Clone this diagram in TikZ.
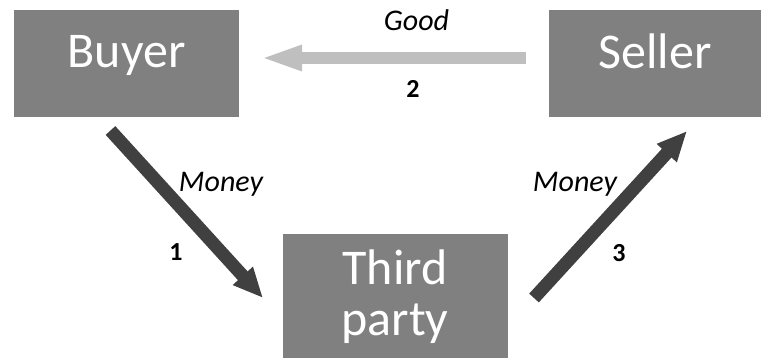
\documentclass[tikz,border=0pt]{standalone}
\usepackage{fontspec}
\setmainfont{Carlito}
\usetikzlibrary{arrows.meta}
\definecolor{boxgray}{HTML}{808080}
\definecolor{darkarrow}{HTML}{404040}
\definecolor{lightarrow}{HTML}{BFBFBF}
\tikzset{
  party/.style={fill=boxgray, draw=none, inner sep=0pt},
  partytext/.style={text=white, anchor=base, inner sep=0pt, font=\fontsize{50}{54}\selectfont},
  flowlabel/.style={anchor=base, inner sep=0pt, font=\fontsize{30}{34}\selectfont\itshape},
  steplabel/.style={anchor=base, inner sep=0pt, font=\fontsize{26}{30}\selectfont\bfseries},
  darkflow/.style={draw=darkarrow, line width=13pt, -{Triangle[length=30pt,width=25pt]}, color=darkarrow},
  lightflow/.style={draw=lightarrow, line width=12pt, -{Triangle[length=42pt,width=23pt]}, color=lightarrow}
}
\begin{document}
\begin{tikzpicture}[x=1pt,y=-1pt]
\useasboundingbox (0,0) rectangle (761,358);
% boxes
\node[party, minimum width=225pt, minimum height=107pt] (buyer) at (126.5,63.5) {};
\node[party, minimum width=212pt, minimum height=107pt] (seller) at (655,63.5) {};
\node[party, minimum width=225pt, minimum height=124pt] (third) at (395.5,296) {};
% box texts
\node[partytext] (buyertext) at (126.5,68) {Buyer};
\node[partytext] (sellertext) at (655,69) {Seller};
\node[partytext] (thirdtext1) at (395,285) {Third};
\node[partytext] (thirdtext2) at (395,335) {party};
% arrow end points
\coordinate (goodstart) at (526,58);
\coordinate (goodend) at (260,58);
\coordinate (m1start) at (110.5,130.5);
\coordinate (m1end) at (263,298);
\coordinate (m3start) at (534,298);
\coordinate (m3end) at (687,131);
% arrows
\draw[lightflow] (goodstart) -- (goodend);
\draw[darkflow] (m1start) -- (m1end);
\draw[darkflow] (m3start) -- (m3end);
% labels
\node[flowlabel] (goodlabel) at (416.5,31) {Good};
\node[steplabel] (two) at (413,98) {2};
\node[flowlabel] (money1) at (221,192) {Money};
\node[steplabel] (one) at (176,261) {1};
\node[flowlabel] (money3) at (575,192) {Money};
\node[steplabel] (three) at (619,262) {3};
\end{tikzpicture}
\end{document}
